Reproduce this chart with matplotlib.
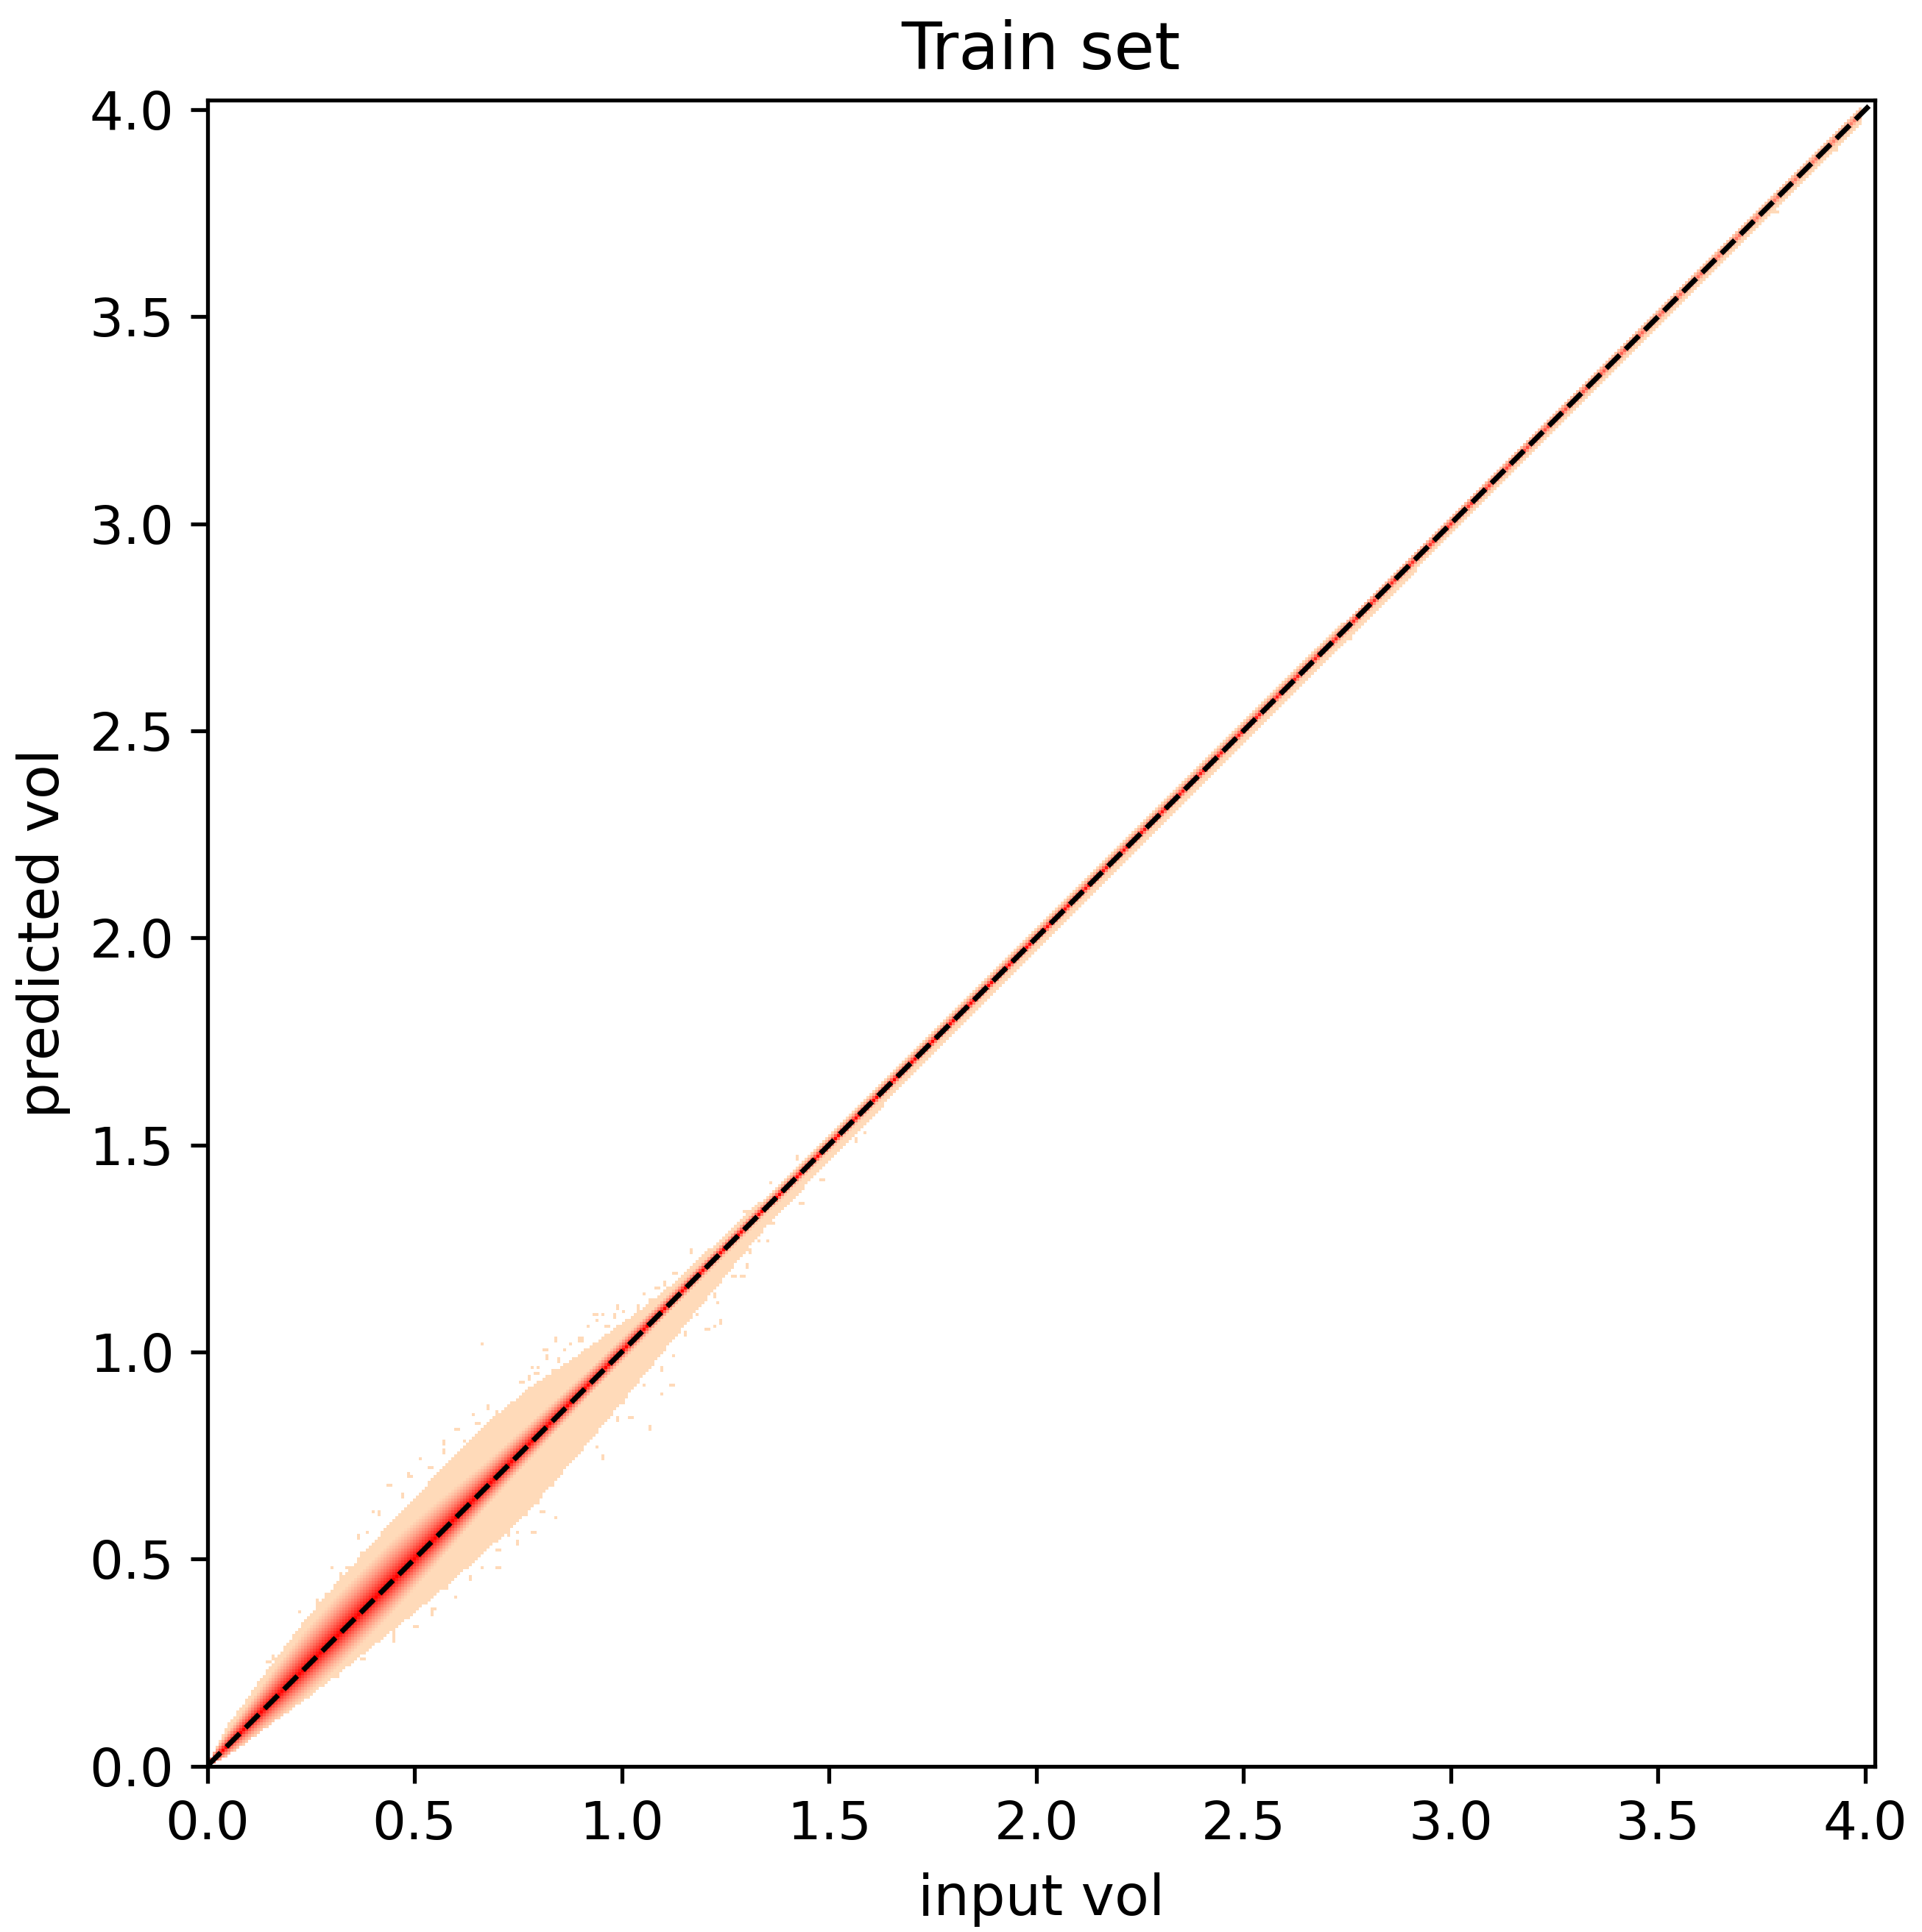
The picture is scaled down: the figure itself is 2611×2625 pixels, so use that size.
import numpy as np
import matplotlib
matplotlib.use("Agg")
import matplotlib.pyplot as plt
from matplotlib.colors import LinearSegmentedColormap

# values
title = "Train set"
xlabel = "input vol"
ylabel = "predicted vol"
ticks = [0.0, 0.5, 1.0, 1.5, 2.0, 2.5, 3.0, 3.5, 4.0]
axis_max = 4.023
line_end = 4.012
cell = 0.0071

# band along the diagonal, as offsets predicted - input
vol_read = [0.0, 0.02, 0.05, 0.08, 0.14, 0.17, 0.23, 0.32, 0.44, 0.55, 0.67, 0.78, 0.92, 1.04, 1.13, 1.22, 1.34, 1.45, 1.58, 1.8, 2.2, 2.6, 3.0, 3.5, 3.99]
upper_read = [0.0, 0.02, 0.05, 0.06, 0.085, 0.095, 0.115, 0.13, 0.145, 0.15, 0.155, 0.135, 0.09, 0.058, 0.04, 0.035, 0.028, 0.026, 0.025, 0.024, 0.024, 0.022, 0.02, 0.018, 0.016]
lower_read = [0.0, -0.012, -0.025, -0.034, -0.05, -0.057, -0.075, -0.095, -0.12, -0.14, -0.155, -0.16, -0.14, -0.115, -0.095, -0.075, -0.05, -0.042, -0.036, -0.034, -0.032, -0.03, -0.028, -0.026, -0.022]
core_read = [0.014, 0.022, 0.036, 0.045, 0.065, 0.075, 0.09, 0.1, 0.1, 0.085, 0.062, 0.05, 0.036, 0.03, 0.025, 0.022, 0.02, 0.02, 0.02, 0.02, 0.02, 0.02, 0.02, 0.02, 0.02]
peak_read = [1.0, 1.0, 1.0, 1.0, 1.0, 1.0, 1.0, 1.0, 1.0, 1.0, 1.0, 1.0, 1.0, 1.0, 1.0, 1.0, 1.0, 1.0, 1.0, 1.0, 0.9, 0.85, 0.75, 0.5, 0.4]

# colour level across the core
core_pos = [0.0, 0.2, 0.4, 0.6, 0.8, 1.0]
core_level = [1.0, 0.72, 0.48, 0.28, 0.12, 0.0]
lower_core_share = 0.8

# lone cells outside the band
stray_input = [0.145, 0.163, 0.223, 0.210, 0.263, 0.305, 0.340, 0.364, 0.402, 0.437, 0.488, 0.518, 0.597, 0.571, 0.642,
               0.503, 0.545, 0.598, 0.696, 0.749, 0.838, 0.782, 0.450,
               0.784, 0.811, 0.844, 0.918, 0.936, 0.989, 0.956, 1.122, 1.171, 1.357, 1.297, 1.425, 0.876, 0.897,
               1.066, 1.098, 1.116, 1.238, 1.224, 1.291, 1.303, 1.353, 1.432, 1.564, 1.589, 1.480, 0.952, 0.662,
               0.755, 0.779, 0.761, 0.793, 0.820, 0.802, 0.832, 0.850, 0.865, 0.900, 0.903, 0.939, 0.965, 0.980, 1.004, 1.022, 1.039, 1.057, 1.081, 1.105, 1.066,
               0.891, 0.915, 0.939, 0.968, 0.992, 1.004, 1.022, 1.034, 1.051, 1.075, 1.099, 1.122, 1.111, 1.152, 1.182, 1.200, 1.223, 1.235, 1.265, 1.312, 1.330, 1.360,
               0.471, 0.495, 0.536, 0.572, 0.619, 0.649, 0.678, 0.702, 0.732, 0.418, 0.388, 0.370, 0.323, 0.287, 0.761,
               0.637, 0.661, 0.702, 0.726, 0.750, 0.791, 0.833, 0.767, 0.809, 0.578, 0.601, 0.542, 0.453, 0.412, 0.370, 0.317,
               3.93, 3.78, 3.45, 3.10, 2.75, 2.35, 1.95]
stray_pred = [0.252, 0.259, 0.373, 0.319, 0.392, 0.478, 0.478, 0.548, 0.614, 0.675, 0.700, 0.742, 0.810, 0.776, 0.850,
              0.339, 0.366, 0.406, 0.480, 0.533, 0.597, 0.567, 0.305,
              0.965, 1.004, 1.025, 1.065, 1.091, 1.105, 1.090, 1.191, 1.240, 1.407, 1.339, 1.468, 1.021, 1.030,
              0.810, 0.896, 0.923, 1.071, 1.058, 1.179, 1.201, 1.266, 1.360, 1.508, 1.530, 1.414, 0.741, 1.022,
              0.928, 0.931, 0.892, 0.946, 0.981, 0.964, 0.952, 0.975, 1.005, 1.023, 0.993, 1.073, 1.058, 1.082, 1.097, 1.076, 1.106, 1.141, 1.156, 1.162, 1.124,
              0.756, 0.791, 0.768, 0.857, 0.833, 0.880, 0.839, 0.922, 0.916, 0.987, 0.955, 0.993, 1.029, 1.041, 1.088, 1.052, 1.135, 1.118, 1.183, 1.242, 1.266, 1.307,
              0.650, 0.697, 0.721, 0.757, 0.783, 0.828, 0.863, 0.857, 0.875, 0.608, 0.561, 0.513, 0.460, 0.413, 0.881,
              0.448, 0.478, 0.525, 0.555, 0.561, 0.638, 0.679, 0.608, 0.614, 0.430, 0.407, 0.383, 0.318, 0.300, 0.258, 0.217,
              3.905, 3.755, 3.425, 3.075, 2.725, 2.325, 1.925]

vol = np.array(vol_read)
edges = np.arange(0, axis_max + cell, cell)
mid = (edges[:-1] + edges[1:]) / 2
X, Y = np.meshgrid(mid, mid)
offset = Y - X
# read the band table at every cell
top = np.interp(X, vol, upper_read)
bottom = np.interp(X, vol, lower_read)
core = np.interp(X, vol, core_read)
peak = np.interp(X, vol, peak_read)
core_side = np.where(offset >= 0, core, core * lower_core_share)
level = peak * np.interp(np.abs(offset) / core_side, core_pos, core_level)
grid = np.ma.masked_where((offset > top) | (offset < bottom) | (X > vol_read[-1]), level)
grid = np.ma.array(grid)
ix = np.clip(np.searchsorted(edges, stray_input) - 1, 0, len(mid) - 2)
iy = np.clip(np.searchsorted(edges, stray_pred) - 1, 0, len(mid) - 2)
grid[iy, ix] = 0.0
grid[iy[::3], ix[::3] + 1] = 0.0
grid[iy[1::3] + 1, ix[1::3]] = 0.0

cmap = LinearSegmentedColormap.from_list("band", ["#ffdab9", "#ff0000"])

fig = plt.figure(figsize=(2611 / 400, 2625 / 400), dpi=400)
ax = fig.add_axes([281.5 / 2611, 1 - 2399.5 / 2625, (2547 - 281.5) / 2611, (2399.5 - 136) / 2625])
ax.pcolormesh(edges, edges, grid, cmap=cmap, vmin=0, vmax=1, shading="flat", antialiased=False, linewidth=0)
ax.plot([0, line_end], [0, line_end], color="black", linestyle="--", linewidth=1.25)
ax.set_xlim(0, axis_max)
ax.set_ylim(0, axis_max)
ax.set_xticks(ticks)
ax.set_yticks(ticks)
for side in ax.spines.values():
    side.set_linewidth(0.95)
ax.tick_params(labelsize=13, width=0.95, length=4.2, pad=3.9)
ax.set_xlabel(xlabel, fontsize=13.8, labelpad=5.5)
ax.set_ylabel(ylabel, fontsize=13.8, labelpad=4.5)
ax.set_title(title, fontsize=16.1, pad=7.6)
fig.savefig("out.png", dpi=400)
